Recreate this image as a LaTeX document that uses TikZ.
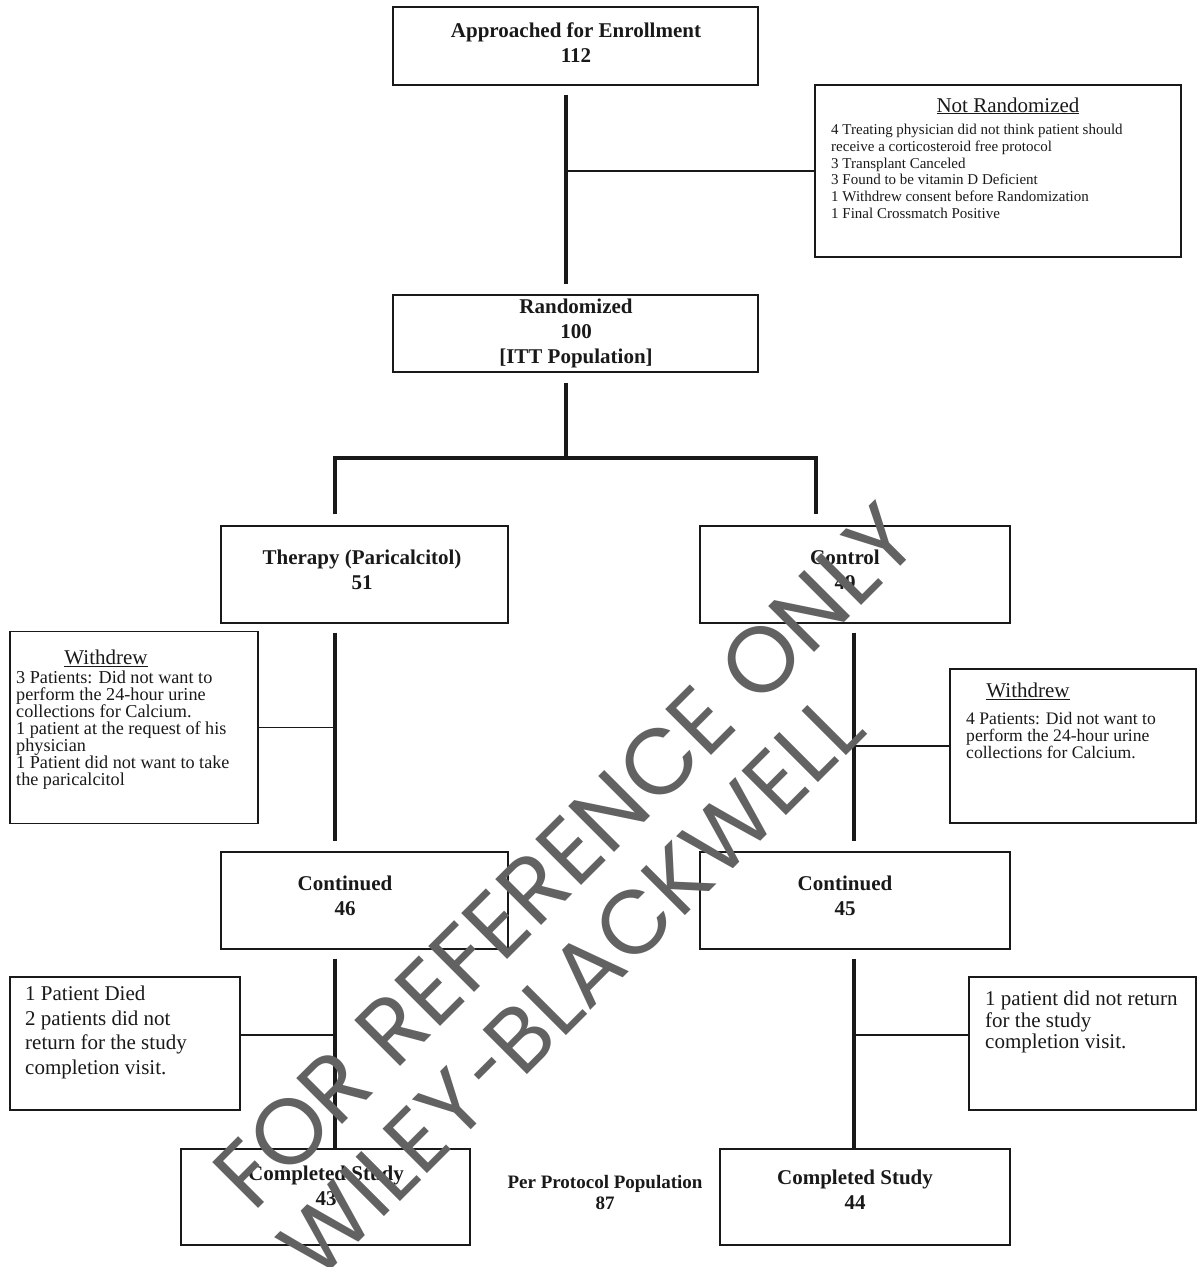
\documentclass[tikz,border=0pt]{standalone}
\usepackage{graphicx}
\usepackage{fontspec}
\setmainfont{Liberation Serif}
\newfontfamily\wmfont{Poppins}
\definecolor{wmgray}{RGB}{98,98,98}
\definecolor{ink}{RGB}{25,25,25}
\begin{document}
\begin{tikzpicture}[x=1pt,y=-1pt,
  box/.style={draw=ink, line width=1.4pt, rectangle, inner sep=0pt},
  thickline/.style={line width=4.6pt, draw=ink, line join=miter},
  thinline/.style={line width=1.2pt, draw=ink},
  btxt/.style={font=\fontsize{21}{25}\selectfont\bfseries, align=center, inner sep=0pt, text=ink},
  ttl/.style={font=\fontsize{21}{25}\selectfont, anchor=base, inner sep=0pt, text=ink},
  stxt/.style={align=left, anchor=north west, inner sep=0pt, text=ink},
  wm/.style={text=wmgray, rotate=45, inner sep=0pt}
]
\useasboundingbox (0,0) rectangle (1197,1267);

% boxes
\node[box, minimum width=365pt, minimum height=78pt] (enr) at (575.5,46) {};
\node[box, minimum width=366pt, minimum height=172pt] (nr) at (998,171) {};
\node[box, minimum width=365pt, minimum height=77pt] (rand) at (575.5,333.5) {};
\node[box, minimum width=287pt, minimum height=97pt] (ther) at (364.5,574.5) {};
\node[box, minimum width=310pt, minimum height=97pt] (ctrl) at (855,574.5) {};
\node[box, minimum width=248pt, minimum height=192pt] (wl) at (134,727.5) {};
\node[box, minimum width=246pt, minimum height=154pt] (wr) at (1073,746) {};
\node[box, minimum width=287pt, minimum height=97pt] (contl) at (364.5,900.5) {};
\node[box, minimum width=310pt, minimum height=97pt] (contr) at (855,900.5) {};
\node[box, minimum width=230pt, minimum height=133pt] (dl) at (125,1043.5) {};
\node[box, minimum width=227pt, minimum height=133pt] (dr) at (1082.5,1043.5) {};
\node[box, minimum width=289pt, minimum height=96pt] (compl) at (325.5,1197) {};
\node[box, minimum width=290pt, minimum height=96pt] (compr) at (865,1197) {};

% box texts
\node[btxt] (enrT) at (576,43) {Approached for Enrollment\\112};
\node[btxt] (randT) at (576,333) {Randomized\\100\\{}[ITT Population]};
\node[btxt] (therT) at (362,570) {Therapy (Paricalcitol)\\51};
\node[btxt] (ctrlT) at (845,570) {Control\\49};
\node[btxt] (contlT) at (345,896) {Continued\\46};
\node[btxt] (contrT) at (845,896) {Continued\\45};
\node[btxt] (complT) at (326,1186) {Completed Study\\43};
\node[btxt] (comprT) at (855,1190) {Completed Study\\44};
\node[btxt, font=\fontsize{19}{21}\selectfont\bfseries] (ppT) at (605,1192) {Per Protocol Population\\87};

% side texts
\node[ttl] (nrTitle) at (1008,112) {\underline{Not Randomized}};
\node[stxt, font=\fontsize{15}{16.7}\selectfont] (nrBody) at (831,124) {4 Treating physician did not think patient should\\receive a corticosteroid free protocol\\3 Transplant Canceled\\3 Found to be vitamin D Deficient\\1 Withdrew consent before Randomization\\1 Final Crossmatch Positive};

\node[ttl] (wlTitle) at (106,664) {\underline{Withdrew}};
\node[stxt, font=\fontsize{18.2}{16.9}\selectfont] (wlBody) at (16,671) {3 Patients: Did not want to\\perform the 24-hour urine\\collections for Calcium.\\1 patient at the request of his\\physician\\1 Patient did not want to take\\the paricalcitol};

\node[ttl] (wrTitle) at (1028,697) {\underline{Withdrew}};
\node[stxt, font=\fontsize{17.6}{17}\selectfont] (wrBody) at (966,712) {4 Patients: Did not want to\\perform the 24-hour urine\\collections for Calcium.};

\node[stxt, font=\fontsize{21}{24.5}\selectfont] (dlBody) at (25,986) {1 Patient Died\\2 patients did not\\return for the study\\completion visit.};
\node[stxt, font=\fontsize{21}{21.5}\selectfont] (drBody) at (985,991) {1 patient did not return\\for the study\\completion visit.};

% connectors
\coordinate (s0) at (566,0);
\coordinate (ls) at (335,0);
\coordinate (rs) at (854,0);
\coordinate (bl) at (335,458);
\coordinate (br) at (816,458);
\coordinate (dy) at (0,1035);

\draw[thickline, shorten <=9pt, shorten >=10pt] (s0 |- enr.south) -- (s0 |- rand.north);
\draw[thinline] (s0 |- nr.west) -- (nr.west);
\draw[thickline, shorten <=10pt] (s0 |- rand.south) -- (s0 |- bl);
\draw[thickline, shorten <=11pt, shorten >=11pt] (bl |- ther.north) -- (bl) -- (br) -- (br |- ctrl.north);

\draw[thickline, shorten <=9pt, shorten >=10pt] (ls |- ther.south) -- (ls |- contl.north);
\draw[thinline] (wl.east) -- (ls |- wl.east);
\draw[thickline, shorten <=9pt, shorten >=10pt] (rs |- ctrl.south) -- (rs |- contr.north);
\draw[thinline] (rs |- wr.west) -- (wr.west);

\draw[thickline, shorten <=9pt] (ls |- contl.south) -- (ls |- compl.north);
\draw[thinline] (dl.east |- dy) -- (ls |- dy);
\draw[thickline, shorten <=9pt] (rs |- contr.south) -- (rs |- compr.north);
\draw[thinline] (rs |- dy) -- (dr.west |- dy);

% watermark
\node[wm, font=\wmfont\fontsize{93}{93}\selectfont] (wm1) at (565,856) {FOR REFERENCE ONLY};
\node[wm, font=\wmfont\fontsize{90}{90}\selectfont] (wm2) at (571,986) {WILEY\hspace{0.08em}\scalebox{0.7}[1]{-}BLACKWELL};
\end{tikzpicture}
\end{document}
